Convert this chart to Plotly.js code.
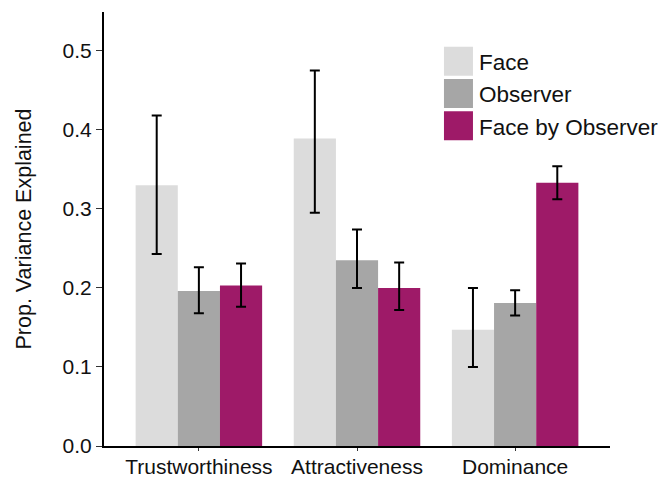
<!DOCTYPE html>
<html>
<head>
<meta charset="utf-8">
<script src="https://cdn.plot.ly/plotly-3.0.1.min.js"></script>
<style>html,body{margin:0;padding:0;background:#fff;}#chart{width:665px;height:477px;}</style>
</head>
<body>
<div id="chart"></div>
<script>
const categories = ["Trustworthiness", "Attractiveness", "Dominance"];
const seriesNames = ["Face", "Observer", "Face by Observer"];
const faceValues = [0.330, 0.389, 0.147];
const faceUpper = [0.418, 0.475, 0.200];
const faceLower = [0.243, 0.295, 0.100];
const observerValues = [0.196, 0.235, 0.181];
const observerUpper = [0.226, 0.274, 0.197];
const observerLower = [0.168, 0.200, 0.165];
const fxoValues = [0.203, 0.200, 0.333];
const fxoUpper = [0.231, 0.232, 0.354];
const fxoLower = [0.176, 0.172, 0.312];
const yTicks = [0, 0.1, 0.2, 0.3, 0.4, 0.5];
const yTickLabels = ["0.0", "0.1", "0.2", "0.3", "0.4", "0.5"];

const colors = ["#dcdcdc", "#a6a6a6", "#9e1a68"];
const FONT = "Liberation Sans, Arial, Helvetica, sans-serif";

function mk(name, vals, up, lo, color, grp) {
  return {
    type: "bar", name: name, x: categories, y: vals, legendgroup: grp,
    marker: {color: color, line: {width: 0}},
    error_y: {
      type: "data", symmetric: false,
      array: vals.map((v, i) => up[i] - v),
      arrayminus: vals.map((v, i) => v - lo[i]),
      color: "#000", thickness: 2, width: 5
    },
    hoverinfo: "skip"
  };
}

const data = [
  mk(seriesNames[0], faceValues, faceUpper, faceLower, colors[0], "g1"),
  mk(seriesNames[1], observerValues, observerUpper, observerLower, colors[1], "g2"),
  mk(seriesNames[2], fxoValues, fxoUpper, fxoLower, colors[2], "g3")
];

const layout = {
  width: 665, height: 477,
  margin: {l: 104, r: 55, t: 12, b: 31, pad: 0, autoexpand: false},
  paper_bgcolor: "#fff", plot_bgcolor: "#fff",
  font: {family: FONT, size: 21, color: "#111"},
  barmode: "group", bargap: 0.2, bargroupgap: 0,
  showlegend: true,
  legend: {
    x: 0.662, y: 0.935, xanchor: "left", yanchor: "top",
    font: {family: FONT, size: 22.5, color: "#111"},
    bgcolor: "rgba(0,0,0,0)", tracegroupgap: 0, traceorder: "grouped"
  },
  xaxis: {
    type: "category", range: [-0.6, 2.6],
    showline: true, linecolor: "#000", linewidth: 2,
    ticks: "outside", ticklen: 3, tickwidth: 1, tickcolor: "#333",
    ticklabelstandoff: -2,
    tickfont: {family: FONT, size: 21, color: "#111"},
    showgrid: false, zeroline: false, fixedrange: true
  },
  yaxis: {
    range: [0, 0.549],
    tickvals: yTicks, ticktext: yTickLabels,
    showline: true, linecolor: "#000", linewidth: 2,
    ticks: "outside", ticklen: 6, tickwidth: 1, tickcolor: "#333",
    tickfont: {family: FONT, size: 21, color: "#111"},
    showgrid: false, zeroline: false, fixedrange: true,
    title: {text: "Prop. Variance Explained", font: {family: FONT, size: 21.5, color: "#111"}, standoff: 25}
  }
};

Plotly.newPlot("chart", data, layout, {displayModeBar: false, staticPlot: true}).then(function (gd) {
  gd.querySelectorAll(".legend .legendpoints path").forEach(function (p) {
    p.setAttribute("d", "M14,14.5H-15V-14.5H14Z");
  });
});
</script>
</body>
</html>
